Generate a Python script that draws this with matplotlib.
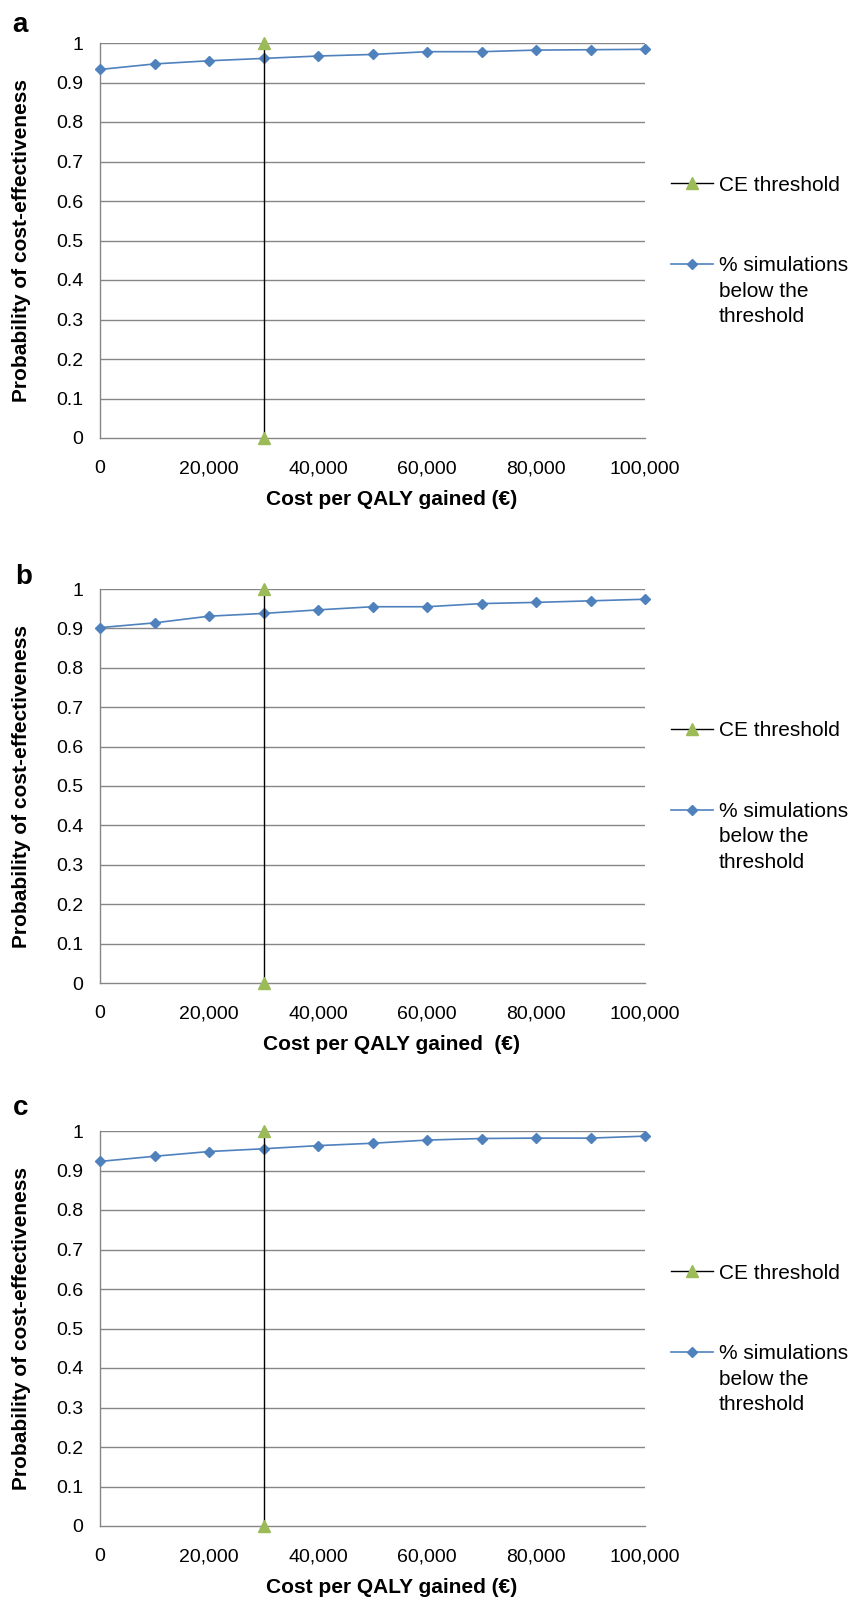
import numpy as np
import matplotlib.pyplot as plt
from matplotlib.ticker import FuncFormatter

plt.rcParams['font.family'] = ['Liberation Sans', 'DejaVu Sans']

# willingness-to-pay values (euro per QALY)
wtp = [0, 10000, 20000, 30000, 40000, 50000, 60000, 70000, 80000, 90000, 100000]

# probability of cost-effectiveness, one list per panel
prob_a = [0.933, 0.947, 0.955, 0.961, 0.967, 0.971, 0.978, 0.978, 0.982, 0.983, 0.984]
prob_b = [0.902, 0.914, 0.931, 0.938, 0.947, 0.955, 0.955, 0.963, 0.966, 0.970, 0.974]
prob_c = [0.923, 0.936, 0.948, 0.955, 0.963, 0.969, 0.977, 0.981, 0.982, 0.982, 0.987]

threshold_x = [30000, 30000]
threshold_y = [0, 1]

panel_letters = ['a', 'b', 'c']
xlabels = ['Cost per QALY gained (€)', 'Cost per QALY gained  (€)', 'Cost per QALY gained (€)']
ylabel = 'Probability of cost-effectiveness'
legend_labels = ['CE threshold', '% simulations']
legend_more = ['below the', 'threshold']   # wrapped rest of the 2nd label
xtick_vals = [0, 20000, 40000, 60000, 80000, 100000]
ytick_vals = [0, 0.1, 0.2, 0.3, 0.4, 0.5, 0.6, 0.7, 0.8, 0.9, 1]

BLUE = '#4F81BD'
GREEN = '#9BBB59'
GRID = '#868686'

fig = plt.figure(figsize=(8.59, 16), dpi=100)

W, H = 859, 1600
left, right = 100, 645
tops = [43, 589, 1131]
bottoms = [438, 983, 1526]
letter_pos = [(12, 32), (15, 584), (13, 1115)]

for i, probs in enumerate([prob_a, prob_b, prob_c]):
    ax = fig.add_axes([left / W, 1 - bottoms[i] / H, (right - left) / W, (bottoms[i] - tops[i]) / H])

    for y in ytick_vals[1:]:
        ax.axhline(y, color=GRID, lw=1.0, zorder=1)

    ax.plot(threshold_x, threshold_y, color='black', lw=1.0, marker='^',
            markersize=9, markerfacecolor=GREEN, markeredgecolor=GREEN,
            clip_on=False, zorder=4, label=legend_labels[0])
    ax.plot(wtp, probs, color=BLUE, lw=1.2, marker='D', markersize=5,
            markerfacecolor=BLUE, markeredgecolor=BLUE, clip_on=False,
            zorder=3, label=legend_labels[1])

    ax.set_xlim(0, 100000)
    ax.set_ylim(0, 1)
    ax.set_xticks(xtick_vals)
    ax.set_yticks(ytick_vals)
    ax.xaxis.set_major_formatter(FuncFormatter(lambda v, p: f'{int(v):,}'))
    ax.yaxis.set_major_formatter(FuncFormatter(lambda v, p: '0' if v == 0 else ('1' if v == 1 else f'{v:.1f}')))
    ax.tick_params(axis='both', length=0, labelsize=14)
    ax.tick_params(axis='y', pad=12)
    ax.tick_params(axis='x', pad=16)

    for s in ['top', 'right']:
        ax.spines[s].set_visible(False)
    for s in ['left', 'bottom']:
        ax.spines[s].set_color(GRID)
        ax.spines[s].set_linewidth(1.0)

    ax.set_xlabel(xlabels[i], fontsize=15, fontweight='bold')
    ax.xaxis.set_label_coords(0.535, -0.132)
    ax.set_ylabel(ylabel, fontsize=15, fontweight='bold')
    ax.yaxis.set_label_coords(-0.127, 0.5)

    leg = ax.legend(loc='upper left', bbox_to_anchor=(1.048, 0.664), frameon=False,
                    fontsize=15, handlelength=2.0, handletextpad=0.3,
                    labelspacing=2.95, borderpad=0, borderaxespad=0)
    first = leg.get_texts()[1]
    for k, line in enumerate(legend_more):
        ax.annotate(line, xy=(0, 0.5), xycoords=first,
                    xytext=(0, -18.4 * (k + 1)), textcoords='offset points',
                    va='center', ha='left', fontsize=15, zorder=10,
                    annotation_clip=False)

    lx, ly = letter_pos[i]
    fig.text(lx / W, 1 - ly / H, panel_letters[i], fontsize=20,
             fontweight='bold', va='baseline', ha='left')

fig.savefig('out.png', dpi=100)
